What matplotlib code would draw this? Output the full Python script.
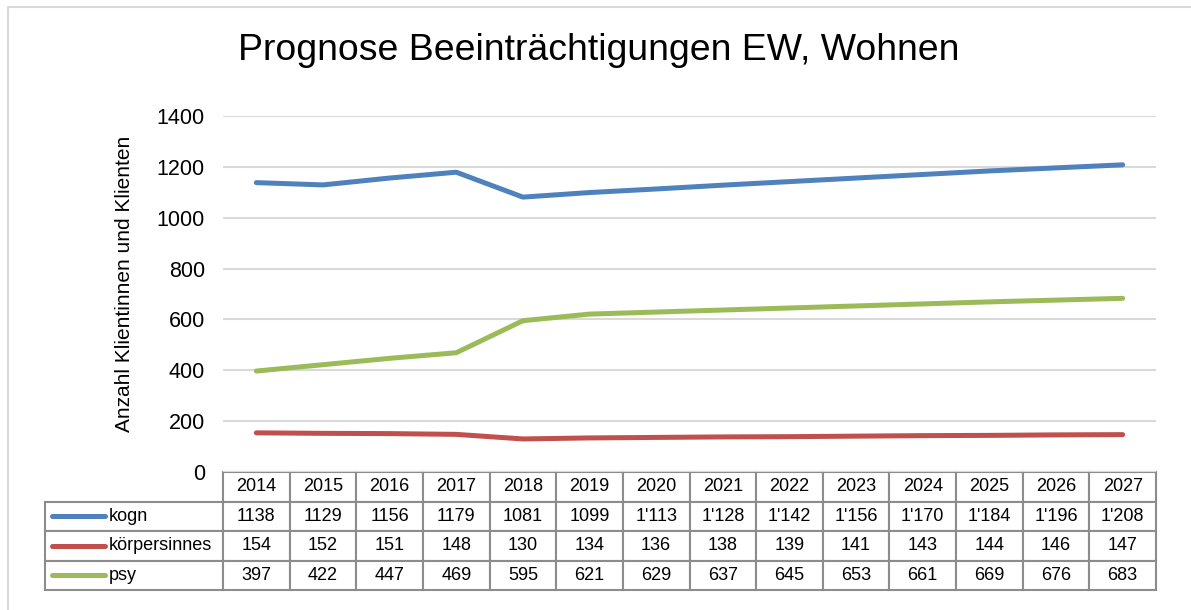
import matplotlib
matplotlib.use('Agg')
from matplotlib import pyplot as plt
from matplotlib.lines import Line2D
import numpy as np

plt.rcParams['font.family'] = ['Liberation Sans', 'DejaVu Sans']

years = ['2014', '2015', '2016', '2017', '2018', '2019', '2020',
         '2021', '2022', '2023', '2024', '2025', '2026', '2027']
kogn = [1138, 1129, 1156, 1179, 1081, 1099, 1113, 1128, 1142, 1156, 1170, 1184, 1196, 1208]
koerper = [154, 152, 151, 148, 130, 134, 136, 138, 139, 141, 143, 144, 146, 147]
psy = [397, 422, 447, 469, 595, 621, 629, 637, 645, 653, 661, 669, 676, 683]

names = ['kogn', 'körpersinnes', 'psy']
colors = ['#4f81bd', '#c0504d', '#9bbb59']
series = [kogn, koerper, psy]

# the table shows a thousands separator for kogn only from 2020 on
kogn_txt = ['1138', '1129', '1156', '1179', '1081', '1099', "1'113",
            "1'128", "1'142", "1'156", "1'170", "1'184", "1'196", "1'208"]
cell_text = [[''] + kogn_txt,
             [''] + [str(v) for v in koerper],
             [''] + [str(v) for v in psy]]

W, H = 1191, 610
fig = plt.figure(figsize=(W / 100, H / 100), dpi=100)

# outer chart frame
fig.add_artist(plt.Rectangle((8 / W, -0.1), 1.2, (H - 7) / H + 0.1,
                             transform=fig.transFigure, fill=False,
                             edgecolor='#d9d9d9', linewidth=1.5))

left, right, top, bottom = 223, 1156, 116, 472
ax = fig.add_axes([left / W, 1 - bottom / H, (right - left) / W, (bottom - top) / H])

x = np.arange(len(years))
for vals, c in zip(series, colors):
    ax.plot(x, vals, color=c, linewidth=3.6, solid_capstyle='round')

ax.set_xlim(-0.5, len(years) - 0.5)
ax.set_ylim(0, 1400)
ax.set_yticks(np.arange(0, 1401, 200))
ax.yaxis.grid(True, color='#d9d9d9', linewidth=1.5)
ax.set_axisbelow(True)
ax.set_xticks([])
for s in ax.spines.values():
    s.set_visible(False)
ax.tick_params(axis='y', length=0, pad=13, labelsize=15.5)

fig.text(125 / W, 1 - 283.5 / H, 'Anzahl Klientinnen und Klienten',
         rotation=90, ha='center', va='center', fontsize=15)
fig.text(599 / W, 1 - 50 / H, 'Prognose Beeinträchtigungen EW, Wohnen',
         ha='center', va='center', fontsize=26.9)

# data table below the plot; first column holds the legend keys
tleft, tbottom = 45, 590
aw, ah = right - left, bottom - top
col_w = aw / len(years)
tbl = ax.table(cellText=cell_text, colLabels=[''] + years,
               cellLoc='center',
               colWidths=[left - tleft] + [col_w] * len(years),
               bbox=[(tleft - left) / aw, -(tbottom - bottom) / ah,
                     (right - tleft) / aw, (tbottom - bottom) / ah])
tbl.auto_set_font_size(False)
tbl.set_fontsize(13)
for (r, c), cell in tbl.get_celld().items():
    cell.set_edgecolor('#8c8c8c')
    cell.set_linewidth(1.5)
tbl[0, 0].visible_edges = ''

row_h = (tbottom - bottom) / 4
for i, (n, c) in enumerate(zip(names, colors)):
    yc = 1 - (bottom + row_h * (i + 1.5)) / H
    fig.add_artist(Line2D([52 / W, 105 / W], [yc, yc], transform=fig.transFigure,
                          color=c, linewidth=3.6, solid_capstyle='round'))
    fig.text(109 / W, yc, n, ha='left', va='center', fontsize=13)

fig.savefig('out.png', dpi=100)
